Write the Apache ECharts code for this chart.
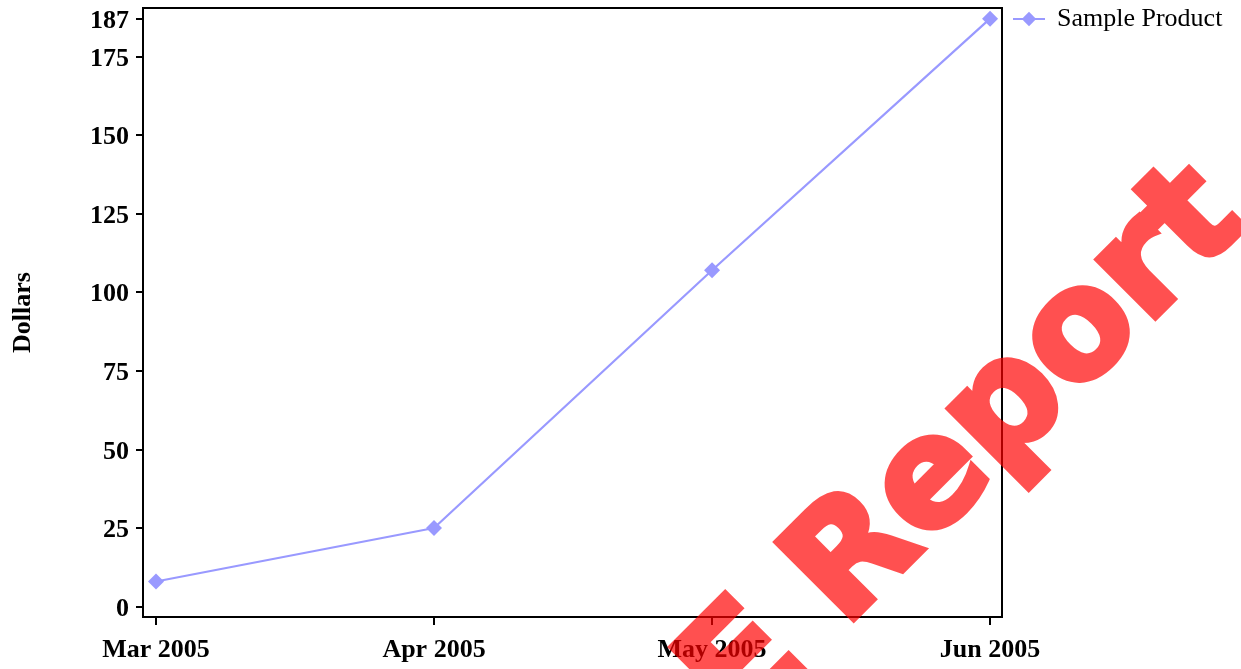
<!DOCTYPE html>
<html>
<head>
<meta charset="utf-8">
<script src="https://cdn.jsdelivr.net/npm/echarts@6/dist/echarts.min.js"></script>
<style>
html,body{margin:0;padding:0;background:#fff;}
#chart{width:1241px;height:669px;}
</style>
</head>
<body>
<div id="chart"></div>
<script>
var categories = ['Mar 2005', 'Apr 2005', 'May 2005', 'Jun 2005'];
var seriesName = 'Sample Product';
var values = [8, 25, 107, 187];
var yTicks = [0, 25, 50, 75, 100, 125, 150, 175, 187];
var xTicks = [0, 1, 2, 3];
var watermarkWords = ['SAMPLE', 'Report'];

var SERIF = '"Liberation Serif", "Times New Roman", serif';
var chart = echarts.init(document.getElementById('chart'), null, {renderer: 'canvas'});

var fs = 150;
var ox = 848, oy = 633;
var wmFont = 'bold ' + fs + 'px "DejaVu Sans", Verdana, sans-serif';
var wmColor = '#ff0000';

chart.setOption({
  animation: false,
  backgroundColor: '#fff',
  grid: {left: 143, right: 239, top: 8, bottom: 52, show: true, borderColor: '#000', borderWidth: 2, backgroundColor: 'transparent'},
  legend: {
    left: 1007, top: 1, itemWidth: 32, itemHeight: 18,
    textStyle: {fontFamily: SERIF, fontSize: 26, color: '#000', padding: [0, 0, 0, 7]},
    data: [seriesName]
  },
  xAxis: {
    type: 'value', min: -0.0468, max: 3.043,
    splitLine: {show: false},
    axisLine: {show: true, onZero: false, lineStyle: {color: '#000', width: 2}},
    axisTick: {show: true, customValues: xTicks, length: 8, lineStyle: {color: '#000', width: 2}},
    axisLabel: {
      customValues: xTicks, margin: 20,
      fontFamily: SERIF, fontWeight: 'bold', fontSize: 26, color: '#000',
      formatter: function (v) { return categories[Math.round(v)]; }
    }
  },
  yAxis: {
    type: 'value', min: -3.3, max: 190.4,
    name: 'Dollars', nameLocation: 'middle', nameGap: 107, nameRotate: 90,
    nameTextStyle: {fontFamily: SERIF, fontWeight: 'bold', fontSize: 26, color: '#000'},
    splitLine: {show: false},
    axisLine: {show: true, onZero: false, lineStyle: {color: '#000', width: 2}},
    axisTick: {show: true, customValues: yTicks, length: 7, lineStyle: {color: '#000', width: 2}},
    axisLabel: {customValues: yTicks, margin: 14, verticalAlign: 'top', lineHeight: 5, fontFamily: SERIF, fontWeight: 'bold', fontSize: 26, color: '#000'}
  },
  series: [{
    name: seriesName, type: 'line',
    data: values.map(function (v, i) { return [i, v]; }),
    symbol: 'diamond', symbolSize: 16,
    lineStyle: {color: '#9999ff', width: 2.2},
    itemStyle: {color: '#9999ff'},
    z: 3
  }],
  graphic: [
    {type: 'text', x: ox, y: oy, rotation: Math.PI / 4, zlevel: 5, silent: true,
     style: {text: watermarkWords[1], x: 0, y: -44.6, align: 'left', verticalAlign: 'middle', font: wmFont, fill: wmColor, stroke: wmColor, lineWidth: 6, lineJoin: 'miter'}},
    {type: 'text', x: ox, y: oy, rotation: Math.PI / 4, zlevel: 5, silent: true,
     style: {text: watermarkWords[0], x: -46, y: -44.6, align: 'right', verticalAlign: 'middle', font: wmFont, fill: wmColor, stroke: wmColor, lineWidth: 6, lineJoin: 'miter'}}
  ]
});

// watermark layer: semi-transparent so the chart shows through it
try {
  var layer = chart.getZr().painter.getLayer(5);
  if (layer && layer.dom) { layer.dom.style.opacity = '0.686'; }
} catch (e) {}
</script>
</body>
</html>
